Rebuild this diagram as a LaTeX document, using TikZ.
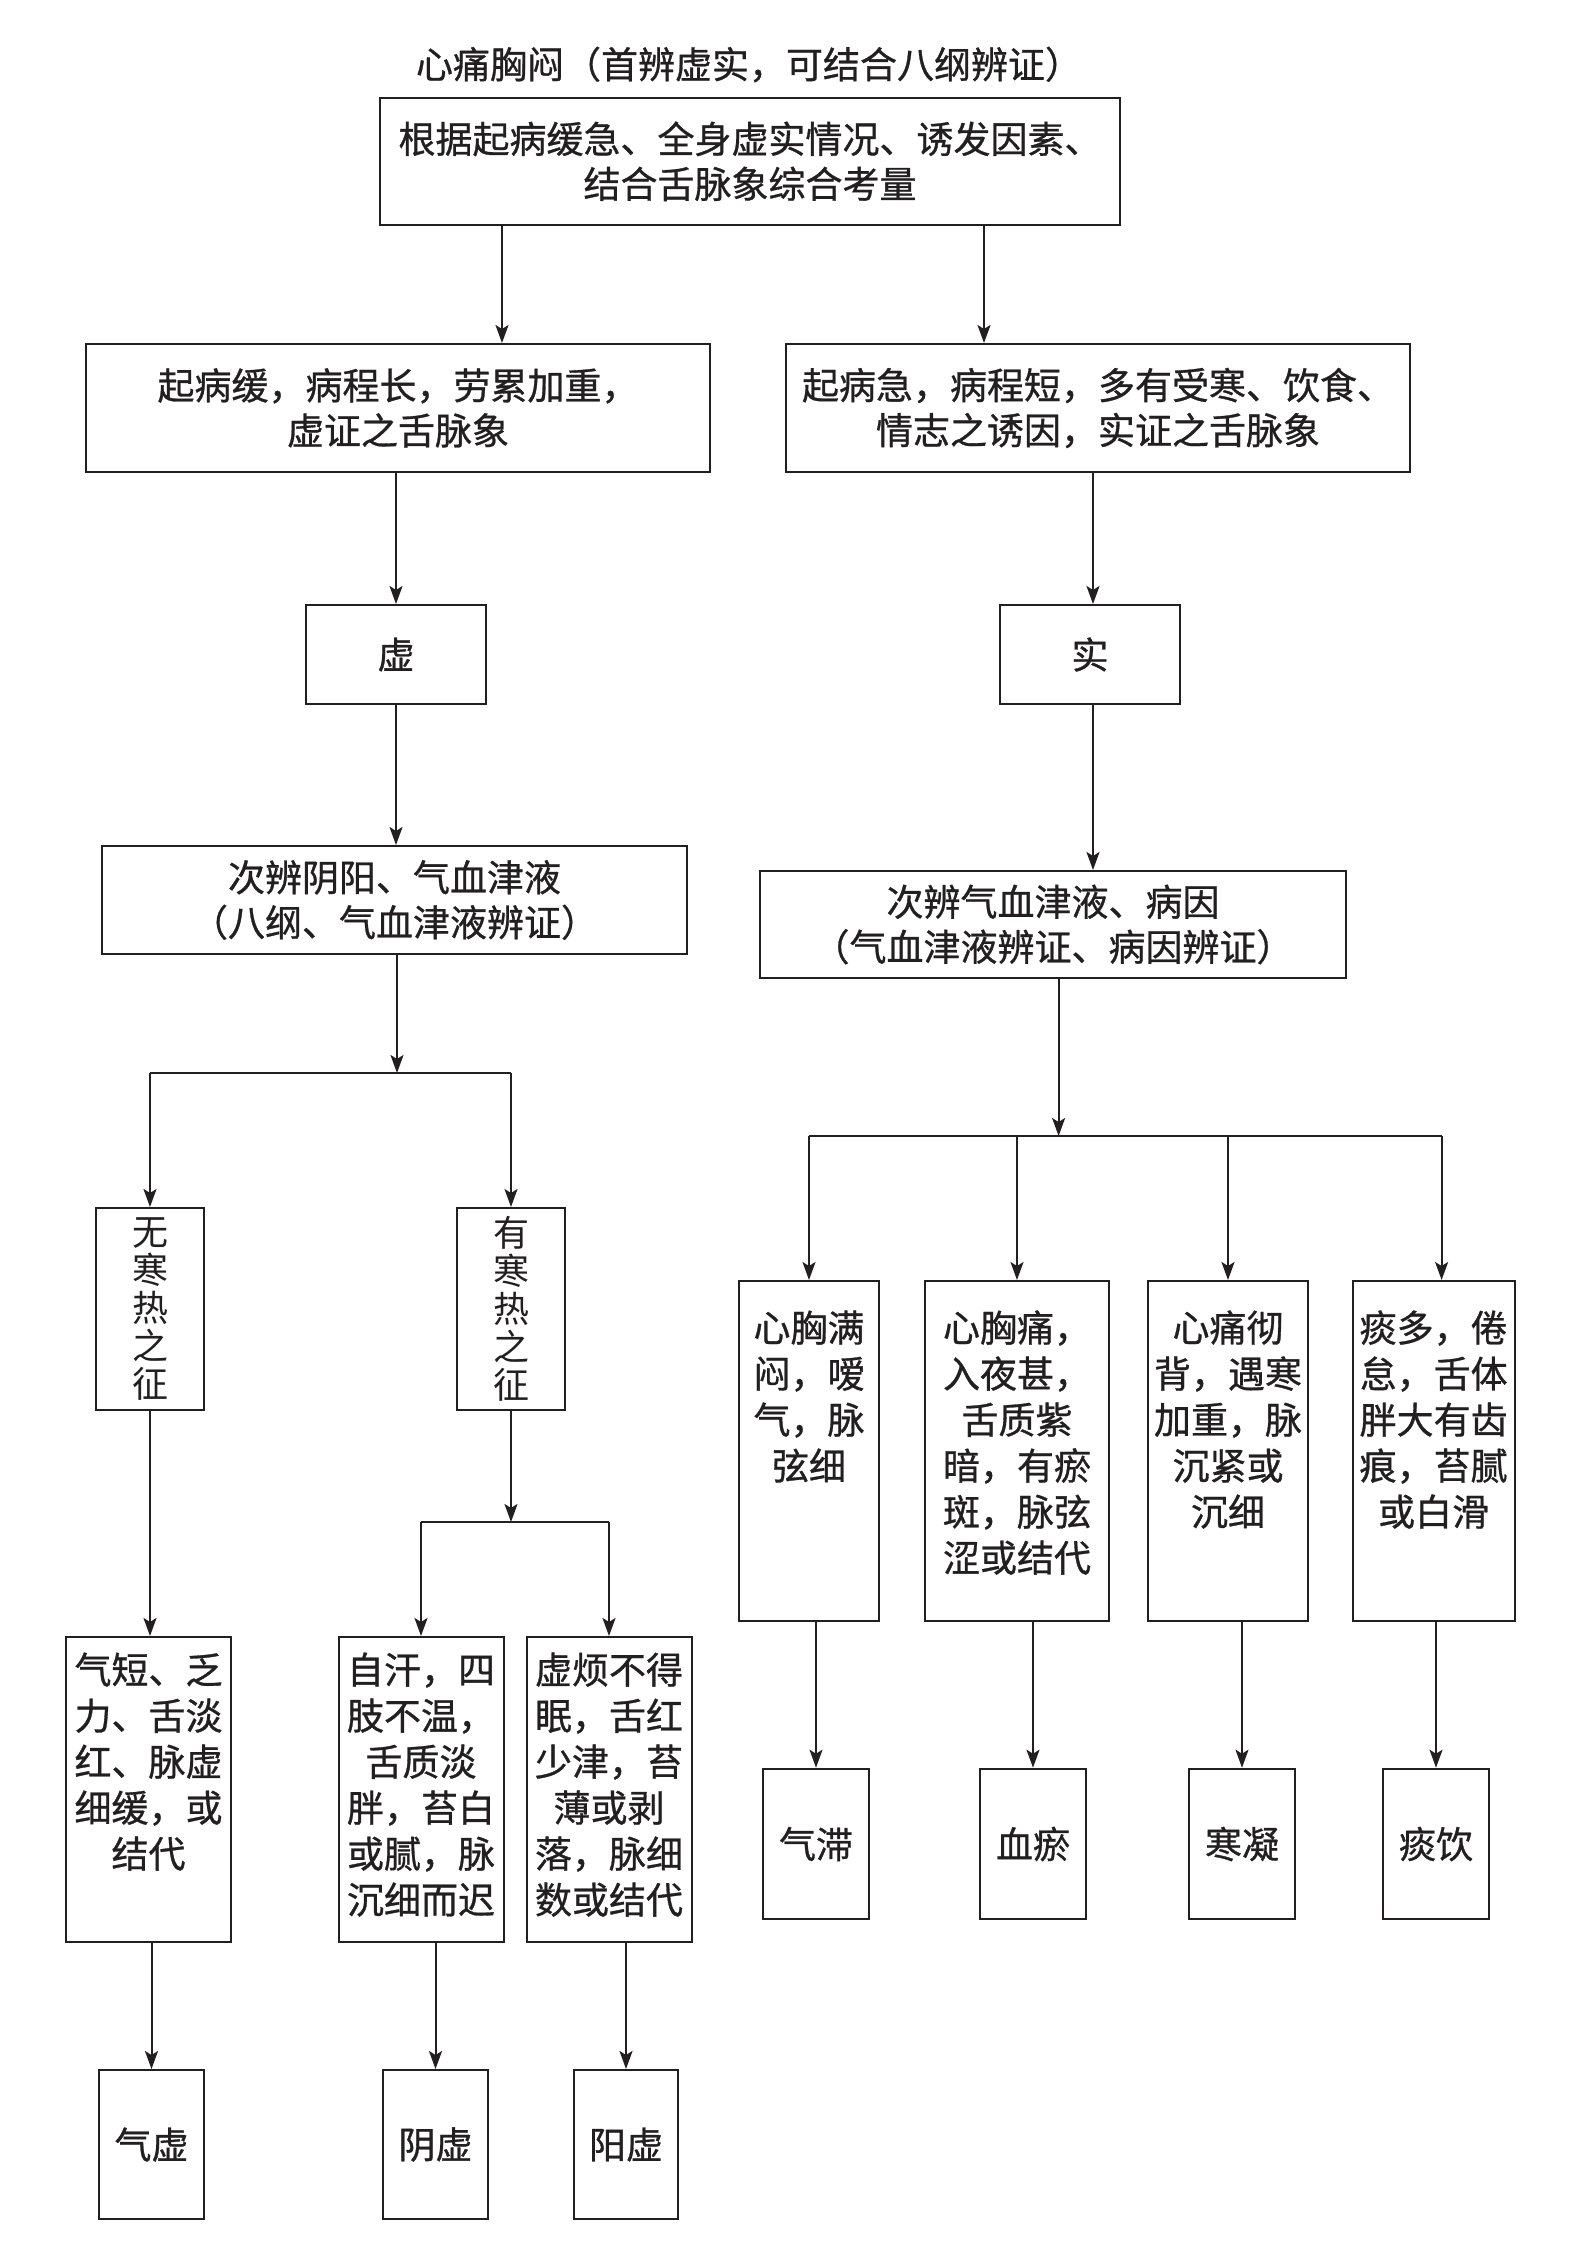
\documentclass[tikz,border=0pt]{standalone}
\usepackage{fontspec}
\newfontfamily\cjk[FakeBold=0.8]{Noto Sans CJK SC}
\newfontfamily\cjklight{Noto Sans CJK SC}
\usetikzlibrary{arrows.meta}
\definecolor{ink}{HTML}{231F20}
\newcommand\tbox[4]{\parbox[c][#2][t]{#1}{\centering\rule{0pt}{#3}#4\par}}
\tikzset{
  base/.style={draw=ink, line width=2pt, text=ink, font=\cjk\fontsize{37pt}{45pt}\selectfont},
  cbox/.style={base, align=center, inner sep=0pt},
  tbx/.style={base, inner sep=0pt, font=\cjk\fontsize{37pt}{46pt}\selectfont},
  vbox/.style={cbox, font=\cjklight\fontsize{36pt}{38pt}\selectfont},
  arr/.style={draw=ink, line width=2pt, -{Stealth[length=18pt,width=13pt,inset=4pt]}},
  ln/.style={draw=ink, line width=2pt}
}
\begin{document}
\begin{tikzpicture}[x=1pt, y=-1pt]
\fill[white] (0,0) rectangle (1585,2250);
\useasboundingbox (0,0) rectangle (1585,2250);

\node[text=ink, font=\cjk\fontsize{37pt}{45pt}\selectfont] (title) at (749,64.5) {心痛胸闷（首辨虚实，可结合八纲辨证）};
\node[cbox, minimum width=740pt, minimum height=127.5pt] (top) at (750,161.3) {根据起病缓急、全身虚实情况、诱发因素、\\结合舌脉象综合考量};

\node[cbox, minimum width=624pt, minimum height=128pt] (L1) at (398,408) {起病缓，病程长，劳累加重，\\虚证之舌脉象};
\node[cbox, minimum width=624pt, minimum height=128pt] (R1) at (1098,408) {起病急，病程短，多有受寒、饮食、\\情志之诱因，实证之舌脉象};

\node[cbox, minimum width=180.5pt, minimum height=99pt] (xu) at (396,654.5) {虚};
\node[cbox, minimum width=180.5pt, minimum height=99pt] (shi) at (1090,654.5) {实};

\node[cbox, minimum width=585pt, minimum height=108pt] (L3) at (394.5,900) {次辨阴阳、气血津液\\（八纲、气血津液辨证）};
\node[cbox, minimum width=585.5pt, minimum height=107pt] (R3) at (1053,924.5) {次辨气血津液、病因\\（气血津液辨证、病因辨证）};

\node[vbox, minimum width=108pt, minimum height=202pt] (wu) at (150,1309) {无\\寒\\热\\之\\征};
\node[vbox, minimum width=107.5pt, minimum height=202pt] (you) at (511,1309) {有\\寒\\热\\之\\征};

\node[tbx] (qd) at (148.5,1789.5) {\tbox{165pt}{305pt}{46.7pt}{气短、乏\\力、舌淡\\红、脉虚\\细缓，或\\结代}};
\node[tbx] (zh) at (421,1789.5) {\tbox{165pt}{305pt}{46.7pt}{自汗，四\\肢不温，\\舌质淡\\胖，苔白\\或腻，脉\\沉细而迟}};
\node[tbx] (xf) at (609,1789.5) {\tbox{165pt}{305pt}{46.7pt}{虚烦不得\\眠，舌红\\少津，苔\\薄或剥\\落，脉细\\数或结代}};

\node[cbox, minimum width=105pt, minimum height=149pt] (qx) at (151.5,2144.5) {气虚};
\node[cbox, minimum width=105pt, minimum height=149pt] (yinx) at (435.5,2144.5) {阴虚};
\node[cbox, minimum width=104.5pt, minimum height=149pt] (yangx) at (626,2144.5) {阳虚};

\node[tbx] (r1) at (809,1451) {\tbox{140.6pt}{340pt}{60.7pt}{心胸满\\闷，嗳\\气，脉\\弦细}};
\node[tbx] (r2) at (1017,1451) {\tbox{184pt}{340pt}{60.7pt}{心胸痛，\\入夜甚，\\舌质紫\\暗，有瘀\\斑，脉弦\\涩或结代}};
\node[tbx] (r3) at (1228,1451) {\tbox{160.5pt}{340pt}{60.7pt}{心痛彻\\背，遇寒\\加重，脉\\沉紧或\\沉细}};
\node[tbx] (r4) at (1433.6,1451) {\tbox{162pt}{340pt}{60.7pt}{痰多，倦\\怠，舌体\\胖大有齿\\痕，苔腻\\或白滑}};

\node[cbox, minimum width=106pt, minimum height=150.6pt] (qz) at (816,1844) {气滞};
\node[cbox, minimum width=106pt, minimum height=150.6pt] (xy) at (1033,1844) {血瘀};
\node[cbox, minimum width=106pt, minimum height=150.6pt] (hn) at (1242,1844) {寒凝};
\node[cbox, minimum width=106pt, minimum height=150.6pt] (ty) at (1436,1844) {痰饮};

\coordinate (jL) at (397,1073);
\coordinate (jY) at (511,1522);
\coordinate (jR) at (1058.6,1136);

% connectors
\draw[arr] ([xshift=-248pt]top.south) -- ([xshift=-248pt]top.south |- L1.north);
\draw[arr] ([xshift=234pt]top.south) -- ([xshift=234pt]top.south |- R1.north);
\draw[arr] (L1.south -| xu.north) -- (xu.north);
\draw[arr] ([xshift=3pt]R1.south -| shi.north) -- ([xshift=3pt]shi.north);
\draw[arr] (xu.south) -- (xu.south |- L3.north);
\draw[arr] ([xshift=3pt]shi.south) -- ([xshift=3pt]shi.south |- R3.north);

\draw[arr] (L3.south -| jL) -- (jL);
\draw[ln] (jL -| wu.north) -- (jL -| you.north);
\draw[arr] (jL -| wu.north) -- (wu.north);
\draw[arr] (jL -| you.north) -- (you.north);

\draw[arr] (wu.south) -- (wu.south |- qd.north);
\draw[arr] (you.south) -- (jY);
\draw[ln] (jY -| zh.north) -- (jY -| xf.north);
\draw[arr] (jY -| zh.north) -- (zh.north);
\draw[arr] (jY -| xf.north) -- (xf.north);

\draw[arr] (qd.south -| qx.north) -- (qx.north);
\draw[arr] (zh.south -| yinx.north) -- (yinx.north);
\draw[arr] (xf.south -| yangx.north) -- (yangx.north);

\draw[arr] (R3.south -| jR) -- (jR);
\draw[ln] (jR -| r1.north) -- ([xshift=8pt]jR -| r4.north);
\draw[arr] (jR -| r1.north) -- (r1.north);
\draw[arr] (jR -| r2.north) -- (r2.north);
\draw[arr] (jR -| r3.north) -- (r3.north);
\draw[arr] ([xshift=8pt]jR -| r4.north) -- ([xshift=8pt]r4.north);

\draw[arr] (r1.south -| qz.north) -- (qz.north);
\draw[arr] (r2.south -| xy.north) -- (xy.north);
\draw[arr] (r3.south -| hn.north) -- (hn.north);
\draw[arr] (r4.south -| ty.north) -- (ty.north);
\end{tikzpicture}
\end{document}
